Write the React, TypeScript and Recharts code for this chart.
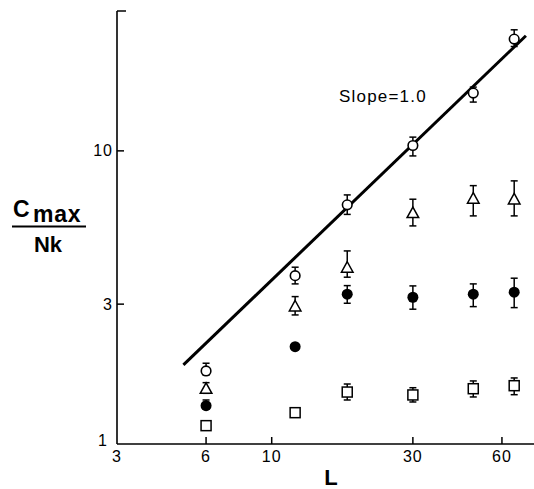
import React from 'react';
import { ScatterChart, Scatter, XAxis, YAxis, ErrorBar, ReferenceLine, Customized } from 'recharts';

// ---- data (log-log plot) ----
const lengths = [6, 12, 18, 30, 48, 66];

const openCircle = [1.775, 3.753, 6.544, 10.43, 15.74, 24.06];
const openCircleHi = [1.886, 4.01, 7.075, 11.14, 16.5, 25.88];
const openCircleLo = [1.719, 3.517, 6.071, 9.61, 14.67, 22.7];

const triangle = [1.549, 2.958, 4.01, 6.157, 6.897, 6.858];
const triangleHi = [1.619, 3.183, 4.557, 6.84, 7.61, 7.9];
const triangleLo = [1.489, 2.756, 3.707, 5.546, 6.0, 6.0];

const filledCircle = [1.351, 2.148, 3.243, 3.167, 3.243, 3.294];
const filledCircleHi = [1.413, 2.148, 3.47, 3.462, 3.517, 3.678];
const filledCircleLo = [1.316, 2.148, 3.021, 2.883, 2.942, 2.919];

const square = [1.155, 1.279, 1.504, 1.47, 1.544, 1.581];
const squareHi = [1.155, 1.279, 1.602, 1.556, 1.641, 1.68];
const squareLo = [1.155, 1.279, 1.413, 1.391, 1.447, 1.473];

const slopeLineL = [5.03, 72.3];
const slopeLineV = [1.861, 24.7];

const xTicks = [3, 6, 10, 30, 60];
const xTickLabels = ['3', '6', '10', '30', '60'];
const yTicks = [1, 3, 10, 30];
const yTickLabels = ['1', '3', '10', ''];

const slopeText = 'Slope=1.0';
const xTitle = 'L';

// ---- layout ----
const W = 534;
const H = 489;
const AXIS_LEFT = 117;
const AXIS_BOTTOM = 444;
const FONT = '"Liberation Sans", Arial, sans-serif';

const build = (v: number[], hi: number[], lo: number[]) =>
  lengths.map((L, i) => ({ L, v: v[i], err: [v[i] - lo[i], hi[i] - v[i]] }));

const openData = build(openCircle, openCircleHi, openCircleLo);
const triData = build(triangle, triangleHi, triangleLo);
const filledData = build(filledCircle, filledCircleHi, filledCircleLo);
const squareData = build(square, squareHi, squareLo);

const OpenCircle = (p: any) => (
  <circle cx={p.cx} cy={p.cy} r={4.8} fill="#fff" stroke="#000" strokeWidth={1.6} />
);
const FilledCircle = (p: any) => <circle cx={p.cx} cy={p.cy} r={5.5} fill="#000" />;
const Triangle = (p: any) => (
  <polygon
    points={`${p.cx},${p.cy - 5.5} ${p.cx - 5.8},${p.cy + 5} ${p.cx + 5.8},${p.cy + 5}`}
    fill="#fff"
    stroke="#000"
    strokeWidth={1.5}
  />
);
const Square = (p: any) => (
  <rect x={p.cx - 5} y={p.cy - 5} width={10} height={10} fill="#fff" stroke="#000" strokeWidth={1.5} />
);

const XTick = (props: any) => {
  const { x, payload } = props;
  const idx = xTicks.indexOf(payload.value);
  return (
    <g>
      {payload.value !== xTicks[0] && (
        <line x1={x} x2={x} y1={AXIS_BOTTOM} y2={AXIS_BOTTOM - 7} stroke="#000" strokeWidth={1.5} />
      )}
      <text x={x} y={462} textAnchor="middle" fontSize={16} letterSpacing={1} fill="#000" fontFamily={FONT}>
        {xTickLabels[idx]}
      </text>
    </g>
  );
};

const YTick = (props: any) => {
  const { y, payload } = props;
  const idx = yTicks.indexOf(payload.value);
  const isTop = idx === yTicks.length - 1;
  return (
    <g>
      {idx !== 0 && (
        <line x1={AXIS_LEFT} x2={AXIS_LEFT + (isTop ? 9 : 7)} y1={y} y2={y} stroke="#000" strokeWidth={1.5} />
      )}
      <text
        x={idx === 0 ? 108 : 113}
        y={idx === 0 ? y + 2 : y + 5.5}
        textAnchor="end"
        fontSize={16}
        letterSpacing={1}
        fill="#000"
        fontFamily={FONT}
      >
        {yTickLabels[idx]}
      </text>
    </g>
  );
};

const Titles = () => (
  <g fontFamily={FONT} fill="#000">
    <text x={13} y={217} fontSize={23} fontWeight="bold">
      C
    </text>
    <text x={33} y={222} fontSize={23} fontWeight="bold" letterSpacing={0.8}>
      max
    </text>
    <line x1={12} x2={86} y1={226.5} y2={226.5} stroke="#000" strokeWidth={2.2} />
    <text x={48} y={252} fontSize={22} fontWeight="bold" textAnchor="middle">
      Nk
    </text>
    <text x={331} y={485} fontSize={22} fontWeight="bold" textAnchor="middle">
      {xTitle}
    </text>
    <text x={339} y={101.5} fontSize={17} letterSpacing={1.2}>
      {slopeText}
    </text>
  </g>
);

export default function App() {
  return (
    <div style={{ position: 'absolute', left: 0, top: 0, width: W, height: H, background: '#fff' }}>
      <ScatterChart width={W} height={H} margin={{ top: 11, right: 0, bottom: 0, left: 0 }}>
        <XAxis
          type="number"
          dataKey="L"
          scale="log"
          domain={[3, 77]}
          allowDataOverflow
          ticks={xTicks}
          height={H - AXIS_BOTTOM}
          axisLine={{ stroke: '#000', strokeWidth: 1.6 }}
          tickLine={false}
          tick={<XTick />}
          interval={0}
        />
        <YAxis
          type="number"
          dataKey="v"
          scale="log"
          domain={[1, 30]}
          allowDataOverflow
          ticks={yTicks}
          width={AXIS_LEFT}
          axisLine={{ stroke: '#000', strokeWidth: 1.6 }}
          tickLine={false}
          tick={<YTick />}
          interval={0}
        />
        <ReferenceLine
          segment={[
            { x: slopeLineL[0], y: slopeLineV[0] },
            { x: slopeLineL[1], y: slopeLineV[1] },
          ]}
          stroke="#000"
          strokeWidth={3}
          ifOverflow="visible"
        />
        <Scatter data={squareData} shape={Square} isAnimationActive={false}>
          <ErrorBar dataKey="err" direction="y" width={3.5} stroke="#000" strokeWidth={1.5} />
        </Scatter>
        <Scatter data={filledData} shape={FilledCircle} isAnimationActive={false}>
          <ErrorBar dataKey="err" direction="y" width={3.5} stroke="#000" strokeWidth={1.5} />
        </Scatter>
        <Scatter data={triData} shape={Triangle} isAnimationActive={false}>
          <ErrorBar dataKey="err" direction="y" width={3.5} stroke="#000" strokeWidth={1.5} />
        </Scatter>
        <Scatter data={openData} shape={OpenCircle} isAnimationActive={false}>
          <ErrorBar dataKey="err" direction="y" width={3.5} stroke="#000" strokeWidth={1.5} />
        </Scatter>
        <Customized component={Titles} />
      </ScatterChart>
    </div>
  );
}
